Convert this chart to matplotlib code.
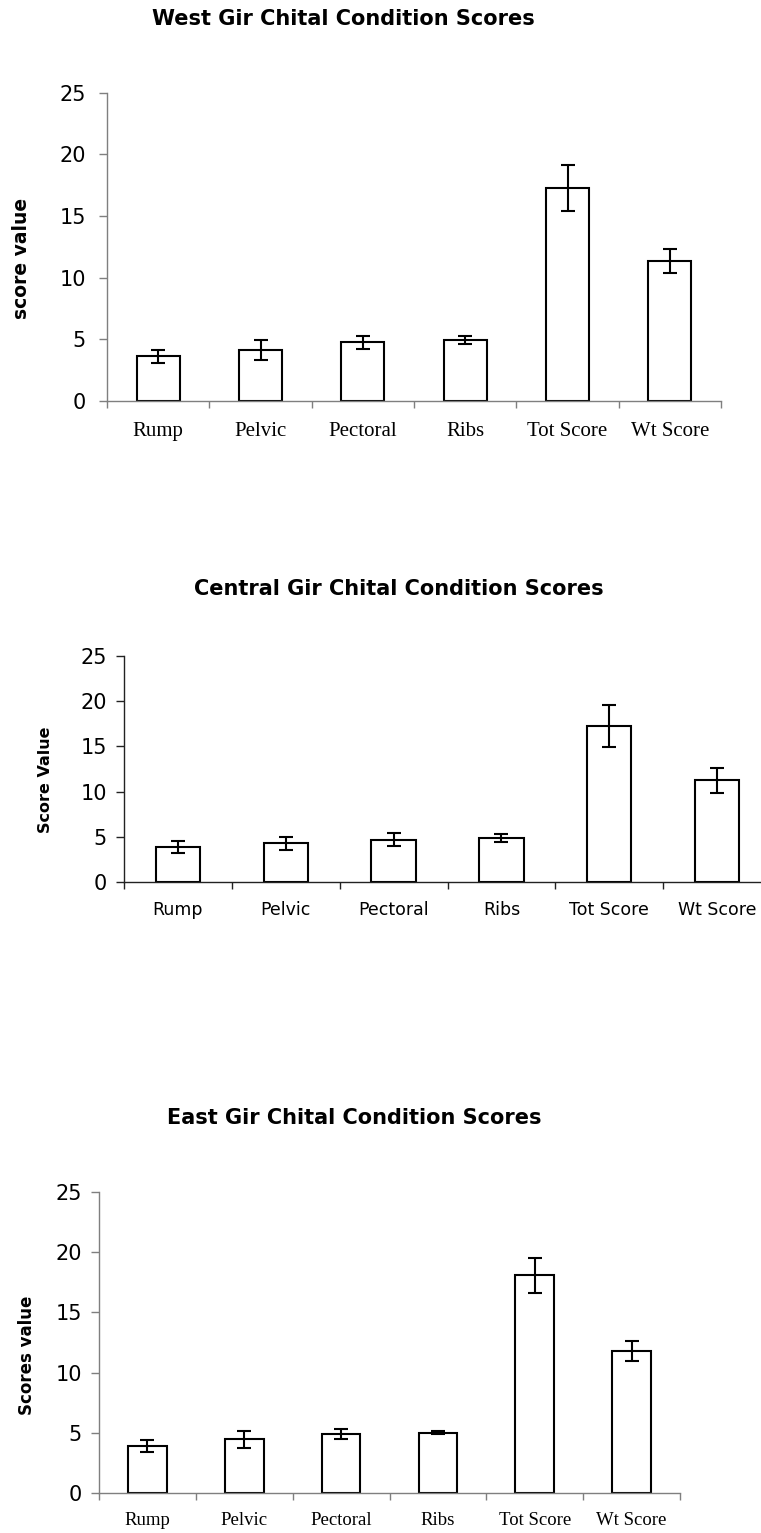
import matplotlib
matplotlib.use("Agg")
import matplotlib.pyplot as plt
import numpy as np

categories = ['Rump', 'Pelvic', 'Pectoral', 'Ribs', 'Tot Score', 'Wt Score']

# mean condition scores and their error bars per region
west_mean = [3.62, 4.15, 4.75, 4.95, 17.3, 11.35]
west_err = [0.55, 0.82, 0.5, 0.36, 1.87, 1.0]

central_mean = [3.9, 4.3, 4.65, 4.9, 17.25, 11.25]
central_err = [0.68, 0.73, 0.72, 0.42, 2.3, 1.4]

east_mean = [3.9, 4.45, 4.9, 5.0, 18.1, 11.8]
east_err = [0.53, 0.68, 0.4, 0.14, 1.45, 0.82]

W, H = 761, 1533
fig = plt.figure(figsize=(W / 100, H / 100), dpi=100)


def px_axes(left, right, top, bottom):
    return fig.add_axes([left / W, 1 - bottom / H, (right - left) / W, (bottom - top) / H])


def draw_panel(ax, means, errs, spine_col, bar_w, xfont, xsize, xpad, ypad):
    x = np.arange(len(categories))
    ax.bar(x, means, width=bar_w, color='white', edgecolor='black', linewidth=1.5, zorder=2)
    ax.errorbar(x, means, yerr=errs, fmt='none', ecolor='black', elinewidth=1.5,
                capsize=4.7, capthick=1.5, zorder=3)
    ax.set_xlim(-0.5, len(categories) - 0.5)
    ax.set_ylim(0, 25)
    ax.set_yticks([0, 5, 10, 15, 20, 25])
    for s in ['top', 'right']:
        ax.spines[s].set_visible(False)
    for s in ['left', 'bottom']:
        ax.spines[s].set_color(spine_col)
        ax.spines[s].set_linewidth(1.0)
    ax.set_xticks(x)
    ax.set_xticklabels(categories, fontfamily=xfont, fontsize=xsize)
    ax.set_xticks(np.arange(-0.5, len(categories)), minor=True)
    ax.tick_params(axis='x', which='major', length=0, pad=xpad)
    ax.tick_params(axis='x', which='minor', length=5, width=1.0, color=spine_col, direction='out')
    ax.tick_params(axis='y', length=5.8, width=1.0, color=spine_col, direction='out',
                   labelsize=15, pad=ypad)
    for lab in ax.get_yticklabels():
        lab.set_fontfamily('DejaVu Sans')


# West
ax1 = px_axes(107, 721, 92.7, 401)
draw_panel(ax1, west_mean, west_err, '#7f7f7f', 0.42, 'Liberation Serif', 15, 15, 9.5)
fig.text(343 / W, 1 - 19 / H, 'West Gir Chital Condition Scores', ha='center', va='center',
         fontsize=15, fontweight='bold')
fig.text(22 / W, 1 - 258 / H, 'score value', ha='center', va='center', rotation=90,
         fontsize=13.5, fontweight='bold')

# Central
ax2 = px_axes(124, 771, 656, 882)
draw_panel(ax2, central_mean, central_err, '#222222', 0.41, 'DejaVu Sans', 12.5, 14, 6.5)
fig.text(399 / W, 1 - 589 / H, 'Central Gir Chital Condition Scores', ha='center', va='center',
         fontsize=15, fontweight='bold')
fig.text(45 / W, 1 - 780 / H, 'Score Value', ha='center', va='center', rotation=90,
         fontsize=11.5, fontweight='bold')

# East
ax3 = px_axes(99, 680, 1192, 1493)
draw_panel(ax3, east_mean, east_err, '#7f7f7f', 0.40, 'Liberation Serif', 13.5, 14, 6.5)
fig.text(354 / W, 1 - 1118 / H, 'East Gir Chital Condition Scores', ha='center', va='center',
         fontsize=15, fontweight='bold')
fig.text(27 / W, 1 - 1355 / H, 'Scores value', ha='center', va='center', rotation=90,
         fontsize=12, fontweight='bold')

fig.savefig('out.png', dpi=100)
